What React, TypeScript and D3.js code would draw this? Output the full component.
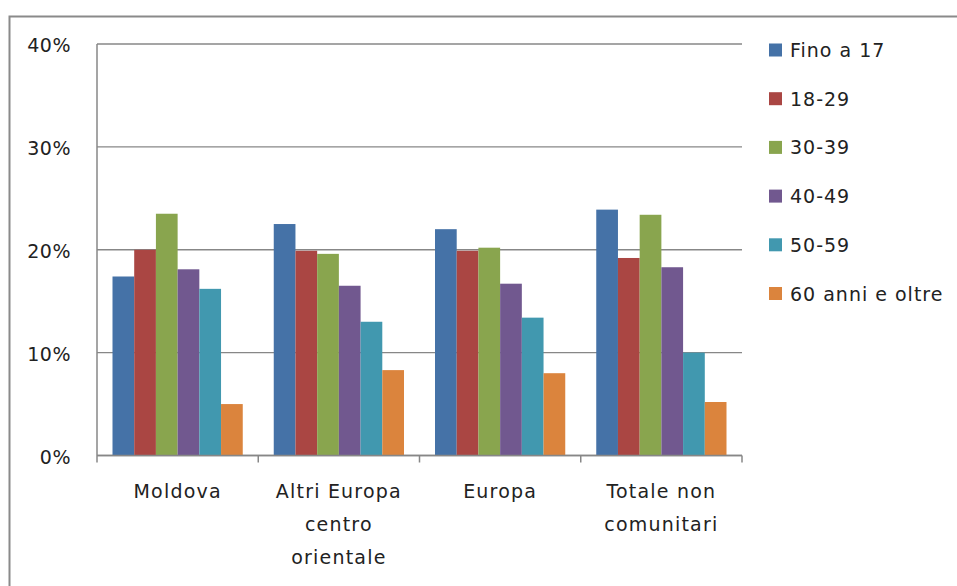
import React from "react";
import * as d3 from "d3";

const categories = ["Moldova", "Altri Europa centro orientale", "Europa", "Totale non comunitari"];
const categoryLines = [["Moldova"], ["Altri Europa", "centro", "orientale"], ["Europa"], ["Totale non", "comunitari"]];
const seriesNames = ["Fino a 17", "18-29", "30-39", "40-49", "50-59", "60 anni e oltre"];
const seriesColors = ["#4572A7", "#AA4643", "#89A54E", "#71588F", "#4198AF", "#DB843D"];
const fino17 = [17.4, 22.5, 22.0, 23.9];
const s18_29 = [20.0, 19.9, 19.9, 19.2];
const s30_39 = [23.5, 19.6, 20.2, 23.4];
const s40_49 = [18.1, 16.5, 16.7, 18.3];
const s50_59 = [16.2, 13.0, 13.4, 10.0];
const s60plus = [5.0, 8.3, 8.0, 5.2];
const yTicks = [0, 10, 20, 30, 40];

const seriesValues = [fino17, s18_29, s30_39, s40_49, s50_59, s60plus];

const W = 957;
const H = 586;
const left = 97;
const right = 742;
const top = 44;
const bottom = 455.5;
const FONT = "DejaVu Sans, Verdana, sans-serif";
const TXT = "#222";
const GRID = "#878787";

export default function App() {
  const x0 = d3.scaleBand<string>().domain(categories).range([left, right]).paddingInner(0).paddingOuter(0);
  const bw = x0.bandwidth();
  const pad = bw * (31 / 161.25) / 2;
  const x1 = d3.scaleBand<string>().domain(seriesNames).range([pad, bw - pad]).padding(0);
  const y = d3.scaleLinear().domain([0, 40]).range([bottom, top]);

  return (
    <svg
      width={W}
      height={H}
      style={{ position: "absolute", left: 0, top: 0, background: "#fff" }}
      fontFamily={FONT}
    >
      <rect x={0} y={0} width={W} height={H} fill="#fff" />
      <rect x={9.5} y={16.5} width={W + 20} height={H + 20} fill="none" stroke="#8a8a8a" strokeWidth={2} />

      {/* gridlines */}
      {yTicks.map((t) => (
        <line key={"g" + t} x1={left} x2={right} y1={y(t)} y2={y(t)} stroke={GRID} strokeWidth={1.3} />
      ))}

      {/* bars */}
      {categories.map((c, ci) => (
        <g key={c} transform={`translate(${x0(c)},0)`}>
          {seriesNames.map((s, si) => {
            const v = seriesValues[si][ci];
            return (
              <rect
                key={s}
                x={x1(s)}
                y={y(v)}
                width={x1.bandwidth()}
                height={y(0) - y(v)}
                fill={seriesColors[si]}
              />
            );
          })}
        </g>
      ))}

      {/* axes */}
      <line x1={left} x2={left} y1={top} y2={bottom + 7} stroke={GRID} strokeWidth={1.5} />
      <line x1={left} x2={right} y1={y(0)} y2={y(0)} stroke={GRID} strokeWidth={1.5} />
      {categories.map((c, i) => (
        <line key={"t" + i} x1={(x0(c) as number) + bw} x2={(x0(c) as number) + bw} y1={bottom} y2={bottom + 7} stroke={GRID} strokeWidth={1.5} />
      ))}

      {/* y tick labels */}
      {yTicks.map((t) => (
        <text key={"yl" + t} x={71} y={y(t) + 8} textAnchor="end" fontSize={19} fill={TXT} letterSpacing={0.5}>
          {t + "%"}
        </text>
      ))}

      {/* category labels */}
      {categories.map((c, i) => (
        <text key={"cl" + i} textAnchor="middle" fontSize={19} fill={TXT} letterSpacing={1.2}>
          {categoryLines[i].map((ln, li) => (
            <tspan key={li} x={(x0(c) as number) + bw / 2} y={498 + li * 33}>
              {ln}
            </tspan>
          ))}
        </text>
      ))}

      {/* legend */}
      {seriesNames.map((s, i) => {
        const cy = 50 + i * 48.7;
        return (
          <g key={"lg" + s}>
            <rect x={769} y={cy - 6.5} width={13} height={13} fill={seriesColors[i]} />
            <text x={790} y={cy + 7} fontSize={19} fill={TXT} letterSpacing={1}>
              {s}
            </text>
          </g>
        );
      })}
    </svg>
  );
}
